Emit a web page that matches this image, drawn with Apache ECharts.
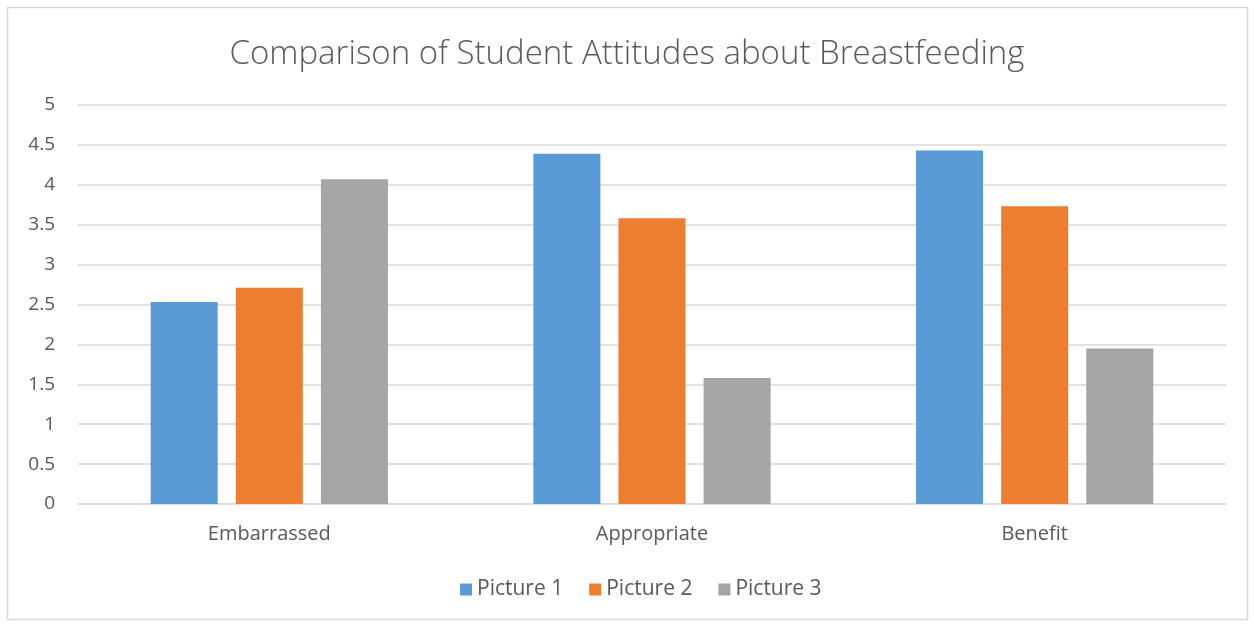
<!DOCTYPE html>
<html><head><meta charset="utf-8">
<script src="https://cdn.jsdelivr.net/npm/echarts@6/dist/echarts.min.js"></script>
<style>html,body{margin:0;padding:0;background:#fff}#c{width:1254px;height:624px}</style>
</head><body><div id="c"></div>
<script>
const categories = ['Embarrassed', 'Appropriate', 'Benefit'];
const seriesNames = ['Picture 1', 'Picture 2', 'Picture 3'];
const picture1 = [2.53, 4.39, 4.43];
const picture2 = [2.71, 3.58, 3.73];
const picture3 = [4.07, 1.58, 1.95];
const colors = ['#5B9BD5', '#ED7D31', '#A5A5A5'];
const values = [picture1, picture2, picture3];
const font = '"Open Sans", sans-serif';
const chart = echarts.init(document.getElementById('c'));
chart.setOption({
  animation: false,
  graphic: [{type:'rect', shape:{x:7.5,y:7.5,width:1240,height:612}, style:{fill:'none', stroke:'#D9D9D9', lineWidth:1.5}, silent:true}],
  title: {text:'Comparison of Student Attitudes about Breastfeeding', left:'center', top:33,
    textStyle:{fontFamily:font, fontWeight:300, fontSize:33, color:'#595959'}},
  legend: {left:455, bottom:19, itemWidth:12, itemHeight:12, itemGap:26, icon:'rect',
    textStyle:{fontFamily:font, fontSize:21, color:'#595959'}, data: seriesNames},
  grid: {left:78, right:28, top:105, bottom:120, containLabel:false},
  xAxis: {type:'category', data:categories,
    axisLine:{lineStyle:{color:'#D9D9D9', width:1.5}}, axisTick:{show:false},
    axisLabel:{fontFamily:font, fontSize:20, color:'#595959', margin:20}},
  yAxis: {type:'value', min:0, max:5, interval:0.5,
    axisLine:{show:false}, axisTick:{show:false},
    splitLine:{lineStyle:{color:'#D9D9D9', width:1.5}},
    axisLabel:{fontFamily:font, fontSize:19, color:'#595959', margin:23}},
  series: seriesNames.map((n,i)=>({name:n, type:'bar', data:values[i], barGap:'27%', barCategoryGap:'38%',
    itemStyle:{color:colors[i]}}))
});
</script></body></html>
